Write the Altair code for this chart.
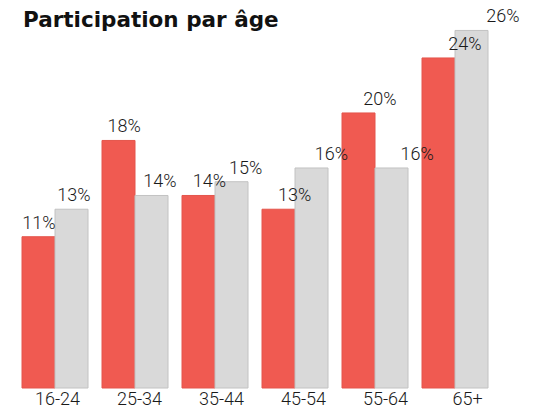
import altair as alt
import pandas as pd

ages = ["16-24", "25-34", "35-44", "45-54", "55-64", "65+"]
series = ["Série A", "Série B"]
red_vals = [11, 18, 14, 13, 20, 24]
gray_vals = [13, 14, 15, 16, 16, 26]
title_text = ["Participation par âge"]

RED = "#f05a51"
GRAY = "#d9d9d9"

rows = []
for a, v in zip(ages, red_vals):
    rows.append({"age": a, "series": series[0], "value": v, "label": f"{v}%"})
for a, v in zip(ages, gray_vals):
    rows.append({"age": a, "series": series[1], "value": v, "label": f"{v}%"})
df = pd.DataFrame(rows)

yscale = alt.Scale(domain=[0, 26.76], nice=False)

bars = alt.Chart(df).mark_bar(strokeWidth=1).encode(
    x=alt.X("age:N", sort=ages,
            scale=alt.Scale(range=[0, 494], paddingInner=0.175, paddingOuter=0.175),
            axis=None),
    xOffset=alt.XOffset("series:N", sort=series,
                        scale=alt.Scale(paddingInner=0, paddingOuter=0)),
    y=alt.Y("value:Q", scale=yscale, axis=None),
    color=alt.Color("series:N", scale=alt.Scale(domain=series, range=[RED, GRAY]), legend=None),
    stroke=alt.Stroke("series:N", scale=alt.Scale(domain=series, range=["#e4554c", "#c2c2c2"]), legend=None),
)

def label_layer(s, rng):
    return alt.Chart(df).transform_filter(alt.datum.series == s).mark_text(
        baseline="alphabetic", align="center", dy=-8,
        font="Roboto", fontSize=18, fontWeight=300, color="#1a1a1a"
    ).encode(
        x=alt.X("age:N", sort=ages, scale=alt.Scale(type="point", range=rng, padding=0), axis=None),
        y=alt.Y("value:Q", scale=yscale, axis=None),
        text="label:N",
    )

red_labels = label_layer(series[0], [31, 457])
gray_labels = label_layer(series[1], [66, 495])

axis_layer = alt.Chart(df).mark_point(opacity=0).encode(
    x=alt.X("age:N", sort=ages,
            scale=alt.Scale(type="point", range=[49, 459], padding=0),
            axis=alt.Axis(title=None, domain=False, ticks=False, labelAngle=0,
                          labelFont="Roboto", labelFontSize=18, labelFontWeight=300,
                          labelColor="#1a1a1a", labelPadding=2)),
)

title_layer = alt.Chart(pd.DataFrame({"t": title_text})).mark_text(
    align="left", baseline="alphabetic", font="DejaVu Sans", fontSize=21.5,
    fontWeight="bold", color="#111111"
).encode(
    x=alt.value(15),
    y=alt.value(7),
    text="t:N",
)

chart = alt.layer(bars, red_labels, gray_labels, axis_layer, title_layer).resolve_scale(
    x="independent"
).properties(
    width=521,
    height=368,
    autosize=alt.AutoSizeParams(type="none"),
    padding={"top": 12, "left": 0, "right": 0, "bottom": 20},
).configure_view(stroke=None)

chart.save("out.html", embed_options={"renderer": "svg", "actions": False})
